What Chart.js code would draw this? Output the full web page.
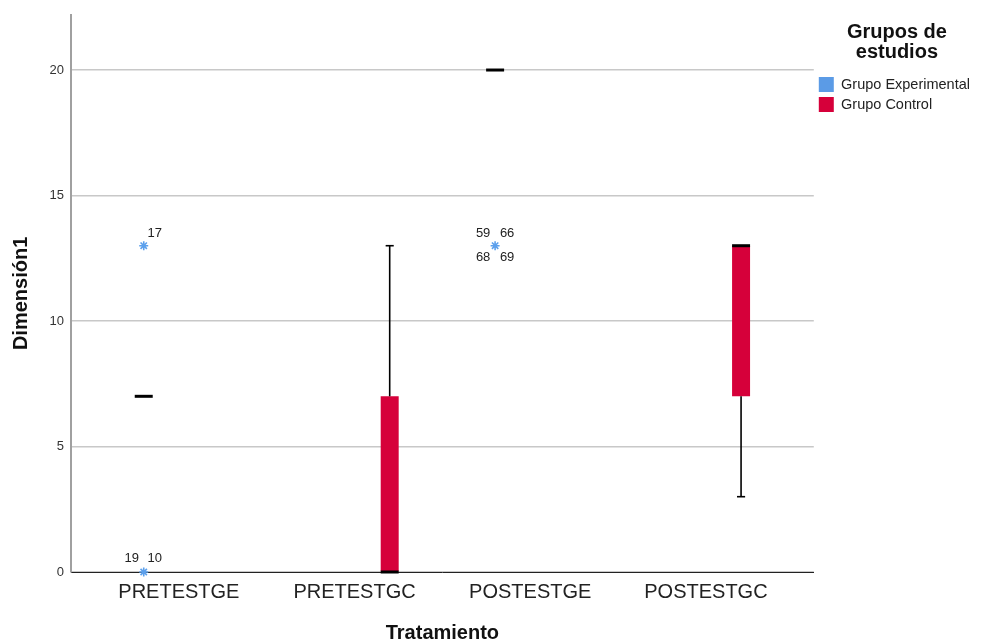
<!DOCTYPE html>
<html>
<head>
<meta charset="utf-8">
<script src="https://cdn.jsdelivr.net/npm/chart.js@4/dist/chart.umd.min.js"></script>
<style>
html,body{margin:0;padding:0;background:#fff;}
#wrap{width:993px;height:643px;position:relative;}
</style>
</head>
<body>
<div id="wrap"><canvas id="c"></canvas></div>
<script>
// ---- data ----
const categories = ['PRETESTGE', 'PRETESTGC', 'POSTESTGE', 'POSTESTGC'];
const groupNames = ['Grupo Experimental', 'Grupo Control'];
const groupColors = ['#5B9BE6', '#D6003A'];

// box statistics per category (null = no box)
const expMin    = [7, null, 20, null];
const expQ1     = [7, null, 20, null];
const expMedian = [7, null, 20, null];
const expQ3     = [7, null, 20, null];
const expMax    = [7, null, 20, null];

const ctrlMin    = [null, 0, null, 3];
const ctrlQ1     = [null, 0, null, 7];
const ctrlMedian = [null, 0, null, 13];
const ctrlQ3     = [null, 7, null, 13];
const ctrlMax    = [null, 13, null, 13];

// outliers (extreme values, star markers) with case numbers
const outlierCategory = [0, 0, 2];
const outlierGroup    = [0, 0, 0];
const outlierValue    = [13, 0, 13];
const outlierCases    = [['17'], ['19', '10'], ['59', '66', '68', '69']];

const yTickStep = 5;
const yMax = 22.2;

// ---- layout constants ----
const FONT = "'Liberation Sans', Arial, Helvetica, sans-serif";
const CAT_PCT = 0.8, BAR_PCT = 0.256;
const X_PAD = 0.614;
const slotOffset = [-CAT_PCT / 4, CAT_PCT / 4];
const halfBox = (CAT_PCT / 2) * BAR_PCT / 2;
const halfCap = halfBox * 0.45;

const groups = [
  {min: expMin, q1: expQ1, med: expMedian, q3: expQ3, max: expMax},
  {min: ctrlMin, q1: ctrlQ1, med: ctrlMedian, q3: ctrlQ3, max: ctrlMax}
];

const datasets = [];
groups.forEach((g, gi) => {
  const pts = [];
  categories.forEach((c, i) => {
    if (g.q1[i] !== null) pts.push({x: i, y: [g.q1[i], g.q3[i]]});
  });
  datasets.push({
    type: 'bar', label: groupNames[gi], data: pts,
    backgroundColor: groupColors[gi], borderWidth: 0,
    categoryPercentage: CAT_PCT, barPercentage: BAR_PCT, order: 2
  });
});

function seg(x1, y1, x2, y2, w) {
  datasets.push({
    type: 'line', label: '_seg', data: [{x: x1, y: y1}, {x: x2, y: y2}],
    borderColor: '#000', borderWidth: w, pointRadius: 0, pointHoverRadius: 0,
    fill: false, order: 0, clip: false, borderCapStyle: 'butt', tension: 0
  });
}

groups.forEach((g, gi) => {
  categories.forEach((c, i) => {
    if (g.q1[i] === null) return;
    const cx = i + slotOffset[gi];
    if (g.max[i] > g.q3[i]) {
      seg(cx, g.q3[i], cx, g.max[i], 1.6);
      seg(cx - halfCap, g.max[i], cx + halfCap, g.max[i], 1.6);
    }
    if (g.min[i] < g.q1[i]) {
      seg(cx, g.min[i], cx, g.q1[i], 1.6);
      seg(cx - halfCap, g.min[i], cx + halfCap, g.min[i], 1.6);
    }
    seg(cx - halfBox, g.med[i], cx + halfBox, g.med[i], 3);
  });
});

datasets.push({
  type: 'line', label: '_out', showLine: false,
  data: outlierValue.map((v, k) => ({x: outlierCategory[k] + slotOffset[outlierGroup[k]], y: v})),
  pointStyle: 'star', pointRadius: 4.5, pointHoverRadius: 4.5,
  borderColor: '#5CA0EC', backgroundColor: '#5CA0EC', pointBorderWidth: 1.6,
  order: -1, clip: false
});

const labelOffsets = {
  1: [[11, -12]],
  2: [[-12, -14], [11, -14]],
  4: [[-12, -12], [12, -12], [-12, 12], [12, 12]]
};

const outlierLabelPlugin = {
  id: 'outlierLabels',
  afterDatasetsDraw(chart) {
    const {ctx, scales: {x, y}} = chart;
    ctx.save();
    ctx.font = '13px ' + FONT;
    ctx.fillStyle = '#222';
    ctx.textAlign = 'center';
    ctx.textBaseline = 'middle';
    outlierCases.forEach((cases, k) => {
      const px = x.getPixelForValue(outlierCategory[k] + slotOffset[outlierGroup[k]]);
      const py = y.getPixelForValue(outlierValue[k]);
      const offs = labelOffsets[cases.length] || labelOffsets[1];
      cases.forEach((t, j) => {
        const o = offs[j] || offs[0];
        ctx.fillText(t, px + o[0], py + o[1]);
      });
    });
    ctx.restore();
  }
};

new Chart(document.getElementById('c'), {
  type: 'bar',
  data: {datasets},
  plugins: [outlierLabelPlugin],
  options: {
    responsive: true,
    maintainAspectRatio: false,
    animation: false,
    layout: {padding: {top: 12, right: 13, left: 0, bottom: 0}},
    plugins: {
      tooltip: {enabled: false},
      legend: {
        display: true,
        position: 'right',
        align: 'start',
        title: {
          display: true,
          text: ['Grupos de', 'estudios'],
          color: '#111',
          font: {family: FONT, size: 20, weight: 'bold', lineHeight: 1},
          padding: {top: 10, bottom: 30}
        },
        labels: {
          font: {family: FONT, size: 14.5},
          color: '#222',
          boxWidth: 15,
          boxHeight: 15,
          padding: 5,
          filter: item => groupNames.includes(item.text)
        }
      }
    },
    scales: {
      x: {
        type: 'linear',
        offset: false,
        min: -X_PAD,
        max: categories.length - 1 + X_PAD,
        afterBuildTicks: s => { s.ticks = categories.map((_, i) => ({value: i})); },
        afterFit: s => { s.height = 71; },
        ticks: {
          callback: v => categories[Math.round(v)],
          font: {family: FONT, size: 20},
          color: '#222',
          padding: 8,
          autoSkip: false,
          maxRotation: 0
        },
        grid: {display: false, drawTicks: false, offset: false},
        border: {display: true, color: '#222', width: 1},
        title: {
          display: true, text: 'Tratamiento', color: '#111',
          font: {family: FONT, size: 20, weight: 'bold', lineHeight: 1},
          padding: {top: 1, bottom: 0}
        }
      },
      y: {
        type: 'linear',
        min: 0,
        max: yMax,
        afterFit: s => { s.width = 71; },
        ticks: {
          stepSize: yTickStep,
          includeBounds: false,
          font: {family: FONT, size: 13},
          color: '#333',
          padding: 7
        },
        grid: {color: '#c8c8c8', lineWidth: 1.5, drawTicks: false},
        border: {display: true, color: '#a0a0a0', width: 2},
        title: {
          display: true, text: 'Dimensión1', color: '#111',
          font: {family: FONT, size: 20, weight: 'bold', lineHeight: 1.2},
          padding: {top: 9, bottom: 0}
        }
      }
    }
  }
});
</script>
</body>
</html>
